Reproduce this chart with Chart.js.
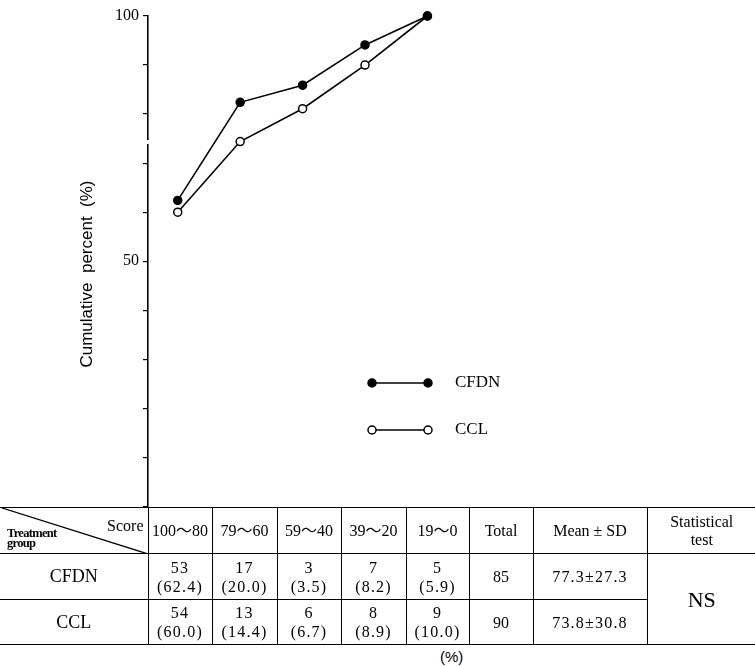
<!DOCTYPE html>
<html>
<head>
<meta charset="utf-8">
<script src="https://cdn.jsdelivr.net/npm/chart.js@4"></script>
<style>
html,body{margin:0;padding:0;background:#fff;}
#wrap{position:relative;width:755px;height:666px;overflow:hidden;background:#fff;}
#c{position:absolute;left:0;top:0;}
#tbl{position:absolute;left:0;top:507px;border-collapse:collapse;table-layout:fixed;width:756px;
  font-family:"Liberation Serif","Noto Sans CJK JP",serif;color:#000;}
#tbl td{border:1px solid #000;text-align:center;vertical-align:middle;padding:0;font-size:16px;line-height:19px;}
#tbl td.first{border-left:none;}
#tbl td.last{border-right:none;}
#tbl td.num{letter-spacing:1.2px;}
#tbl td.grp{font-size:18px;}
#tbl td.ns{font-size:22px;}
#corner{position:relative;}
#corner svg{position:absolute;left:0;top:0;}
#score{position:absolute;right:4px;top:8px;font-size:16px;}
#treat{position:absolute;left:7px;top:20px;font-size:12.5px;line-height:10px;font-weight:bold;text-align:left;letter-spacing:-0.7px;}
#pct{position:absolute;left:440px;top:648px;font-family:"Liberation Sans",sans-serif;font-size:15px;}
</style>
</head>
<body>
<div id="wrap">
<canvas id="c" width="755" height="512"></canvas>
<table id="tbl"></table>
<div id="pct">(%)</div>
</div>
<script>
// ---- data ----
const categories = ['100〜80', '79〜60', '59〜40', '39〜20', '19〜0'];
const groups = ['CFDN', 'CCL'];
const cfdnCounts = [53, 17, 3, 7, 5];
const cfdnPercents = ['62.4', '20.0', '3.5', '8.2', '5.9'];
const cfdnCumulative = [62.4, 82.4, 85.9, 94.1, 100];
const cclCounts = [54, 13, 6, 8, 9];
const cclPercents = ['60.0', '14.4', '6.7', '8.9', '10.0'];
const cclCumulative = [60.0, 74.4, 81.1, 90.0, 100];
const totals = [85, 90];
const meanSD = ['77.3±27.3', '73.8±30.8'];
const statTest = 'NS';
const yTickLabels = [50, 100];

// ---- table ----
const colW = [148, 64, 65, 64, 65, 63, 64, 114, 109];
const tbl = document.getElementById('tbl');
let html = '<colgroup>' + colW.map(w => '<col style="width:' + w + 'px">').join('') + '</colgroup>';
html += '<tr style="height:46px"><td class="first" id="corner">' +
  '<svg width="148" height="46"><line x1="2" y1="0" x2="148" y2="46" stroke="#000" stroke-width="1.3"/></svg>' +
  '<span id="score">Score</span><span id="treat">Treatment<br>group</span></td>' +
  categories.map(c => '<td>' + c + '</td>').join('') +
  '<td>Total</td><td>Mean ± SD</td><td class="last" style="line-height:18px">Statistical<br>test</td></tr>';
const counts = [cfdnCounts, cclCounts];
const pcts = [cfdnPercents, cclPercents];
for (let g = 0; g < groups.length; g++) {
  html += '<tr style="height:' + (g === 0 ? 46 : 45) + 'px"><td class="first grp">' + groups[g] + '</td>' +
    counts[g].map((n, i) => '<td class="num">' + n + '<br>(' + pcts[g][i] + ')</td>').join('') +
    '<td>' + totals[g] + '</td><td class="num">' + meanSD[g] + '</td>' +
    (g === 0 ? '<td class="last ns" rowspan="2">' + statTest + '</td>' : '') + '</tr>';
}
tbl.innerHTML = html;

// ---- chart ----
const toPoints = arr => arr.map((v, i) => ({ x: i + 1, y: v }));

const decor = {
  id: 'decor',
  afterDraw(chart) {
    const ctx = chart.ctx;
    const ya = chart.scales.y;
    ctx.save();
    // axis break
    ctx.fillStyle = '#fff';
    ctx.fillRect(ya.right - 3, 140, 6, 4);
    // y title
    ctx.fillStyle = '#000';
    ctx.font = '17px "Liberation Sans", sans-serif';
    ctx.textAlign = 'center';
    ctx.textBaseline = 'middle';
    ctx.translate(87, 274);
    ctx.rotate(-Math.PI / 2);
    ctx.fillText('Cumulative  percent  (%)', 0, 0);
    ctx.restore();
    // legend
    ctx.save();
    const ys = [383, 430];
    chart.data.datasets.forEach((ds, i) => {
      const y = ys[i];
      ctx.strokeStyle = ds.borderColor;
      ctx.lineWidth = ds.borderWidth;
      ctx.beginPath(); ctx.moveTo(372, y); ctx.lineTo(428, y); ctx.stroke();
      [372, 428].forEach(x => {
        ctx.beginPath(); ctx.arc(x, y, ds.pointRadius, 0, Math.PI * 2);
        ctx.fillStyle = ds.pointBackgroundColor; ctx.fill();
        ctx.lineWidth = ds.pointBorderWidth; ctx.strokeStyle = ds.pointBorderColor; ctx.stroke();
      });
      ctx.fillStyle = '#000';
      ctx.font = '17px "Liberation Serif", serif';
      ctx.textAlign = 'left';
      ctx.textBaseline = 'middle';
      ctx.fillText(ds.label, 455, y);
    });
    ctx.restore();
  }
};

new Chart(document.getElementById('c'), {
  type: 'line',
  data: {
    datasets: [
      { label: groups[0], data: toPoints(cfdnCumulative), borderColor: '#000', borderWidth: 1.6,
        pointRadius: 4, pointBackgroundColor: '#000', pointBorderColor: '#000', pointBorderWidth: 1.5, clip: false },
      { label: groups[1], data: toPoints(cclCumulative), borderColor: '#000', borderWidth: 1.6,
        pointRadius: 4, pointBackgroundColor: '#fff', pointBorderColor: '#000', pointBorderWidth: 1.5, clip: false }
    ]
  },
  options: {
    responsive: false,
    animation: false,
    events: [],
    layout: { padding: { left: 0, right: 0, top: 16, bottom: 0 } },
    plugins: { legend: { display: false }, tooltip: { enabled: false } },
    scales: {
      x: { type: 'linear', display: false, min: 0.5238, max: 10.159 },
      y: {
        min: 0, max: 100,
        afterFit(scale) { scale.width = 148; scale.paddingTop = 0; scale.paddingBottom = 0; },
        border: { display: true, color: '#000', width: 1.6 },
        grid: { display: true, drawOnChartArea: false, drawTicks: true, tickLength: 5, color: '#000', lineWidth: 1.2 },
        ticks: {
          stepSize: 10, padding: 4, color: '#000',
          font: { family: '"Liberation Serif", serif', size: 16 },
          callback: v => yTickLabels.includes(v) ? String(v) : ''
        }
      }
    }
  },
  plugins: [decor]
});
</script>
</body>
</html>
